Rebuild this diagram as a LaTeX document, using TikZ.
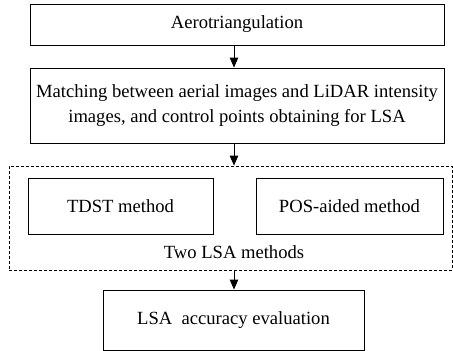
\documentclass[tikz,border=0pt]{standalone}
\usepackage{fontspec}
\setmainfont{Liberation Serif}
\usetikzlibrary{arrows.meta}
\begin{document}
\begin{tikzpicture}[x=1pt,y=-1pt,
  txt/.style={font=\fontsize{18.6}{25.5}\selectfont},
  box/.style={draw,line width=0.9pt,inner sep=0pt,align=center,txt},
  group/.style={draw,dash pattern=on 3pt off 2pt,line width=0.8pt,inner sep=0pt},
  flow/.style={-{Triangle[length=10pt,width=8.5pt]},line width=0.9pt}]
\useasboundingbox (0,0) rectangle (453,351);
\node[box,minimum width=414pt,minimum height=41pt] (aero) at (237,24.5) {Aerotriangulation};
\node[box,minimum width=414pt,minimum height=75pt] (match) at (237,105.5)
  {Matching between aerial images and LiDAR intensity\\images, and control points obtaining for LSA};
\node[group,minimum width=443pt,minimum height=104pt] (lsa) at (230.5,218) {};
\node[box,minimum width=185pt,minimum height=56pt] (tdst) at (120.5,206) {TDST method};
\node[box,minimum width=187pt,minimum height=56pt] (pos) at (349.5,206) {POS-aided method};
\node[txt] (lsalabel) at (234,252) {Two LSA methods};
\node[box,minimum width=261pt,minimum height=60pt] (eval) at (233.5,320) {LSA\ \ accuracy evaluation};
\draw[flow] (aero.south -| 234,0) -- (match.north -| 234,0);
\draw[flow] (match.south -| 234,0) -- (lsa.north -| 234,0);
\draw[flow] (lsa.south -| 234,0) -- (eval.north -| 234,0);
\end{tikzpicture}
\end{document}
